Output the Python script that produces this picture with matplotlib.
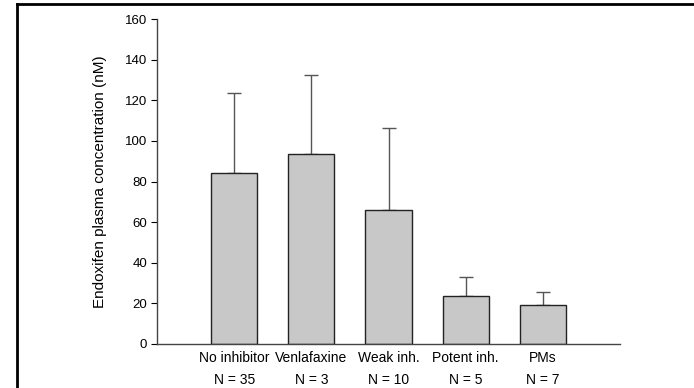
import matplotlib
matplotlib.use("Agg")
import matplotlib.pyplot as plt
from matplotlib.lines import Line2D

plt.rcParams['font.family'] = ['Liberation Sans', 'DejaVu Sans']

groups = ["No inhibitor", "Venlafaxine", "Weak inh.", "Potent inh.", "PMs"]
counts = ["N = 35", "N = 3", "N = 10", "N = 5", "N = 7"]
means = [84.0, 93.5, 66.0, 23.5, 19.2]
sd = [39.5, 38.8, 40.5, 9.7, 6.3]

fig = plt.figure(figsize=(6.94, 3.88), dpi=100)
ax = fig.add_axes([157/694, 1 - 344/388, (620 - 157)/694, (344 - 19)/388])

pos = list(range(1, len(groups) + 1))
ax.bar(pos, means, width=0.6, color="#c8c8c8", edgecolor="#222222", linewidth=1.0, zorder=2)
ax.errorbar(pos, means, yerr=[[0]*len(sd), sd], fmt="none", ecolor="#555555",
            elinewidth=1.0, capsize=5, capthick=1.0, zorder=1)

ax.set_xlim(0, 6)
ax.set_ylim(0, 160)
ax.set_yticks(range(0, 161, 20))
ax.set_xticks(pos)
ax.set_xticklabels([f"{g}\n{n}" for g, n in zip(groups, counts)], fontsize=10, linespacing=1.75)
ax.tick_params(axis="x", length=0, pad=5)
ax.tick_params(axis="y", direction="out", length=4, width=0.8, labelsize=9.5, pad=3)
for s in ("top", "right"):
    ax.spines[s].set_visible(False)
for s in ("left", "bottom"):
    ax.spines[s].set_color("#444444")
    ax.spines[s].set_linewidth(1.0)
ax.set_ylabel("Endoxifen plasma concentration (nM)", fontsize=11, labelpad=13)

# page frame along the top and left edges
fig.add_artist(Line2D([17/694, 17/694], [0, 1 - 4/388], color="black", lw=2, transform=fig.transFigure))
fig.add_artist(Line2D([17/694, 1], [1 - 4/388, 1 - 4/388], color="black", lw=2, transform=fig.transFigure))

fig.savefig("out.png", dpi=100)
